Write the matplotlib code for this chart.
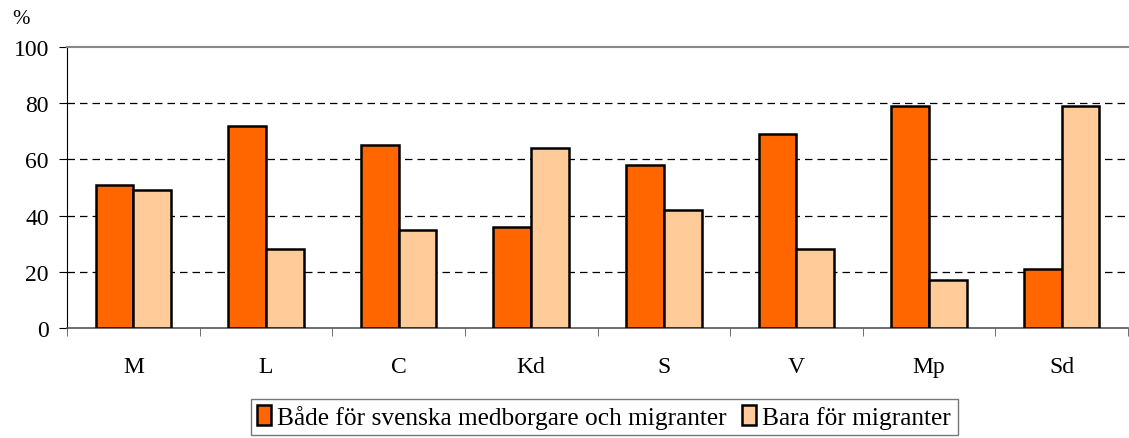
import matplotlib.pyplot as plt
import numpy as np

partier = ['M', 'L', 'C', 'Kd', 'S', 'V', 'Mp', 'Sd']
bade = [51, 72, 65, 36, 58, 69, 79, 21]
bara = [49, 28, 35, 64, 42, 28, 17, 79]

plt.rcParams['font.family'] = ['Liberation Serif', 'DejaVu Serif']

fig = plt.figure(figsize=(11.29, 4.39), dpi=100)
ax = fig.add_axes([67 / 1129, 1 - 329 / 439, 1061 / 1129, 281 / 439])

x = np.arange(len(partier))
w = 0.285
ax.bar(x - w / 2, bade, w, color='#FF6600', edgecolor='black', linewidth=1.8,
       label='Både för svenska medborgare och migranter', zorder=3)
ax.bar(x + w / 2, bara, w, color='#FFCC99', edgecolor='black', linewidth=1.8,
       label='Bara för migranter', zorder=3)

ax.set_xlim(-0.5, len(partier) - 0.5)
ax.set_ylim(0, 100)
ax.set_yticks(range(0, 101, 20))
ax.set_xticks(x)
ax.set_xticklabels(partier)
ax.set_xticks(np.arange(len(partier) + 1) - 0.5, minor=True)
ax.tick_params(axis='x', which='major', length=0, pad=20, labelsize=17)
ax.tick_params(axis='x', which='minor', length=6, direction='out', color='#555555')
ax.tick_params(axis='y', length=6, direction='out', labelsize=17, pad=7)

for yv in [20, 40, 60, 80]:
    ax.axhline(yv, color='black', linestyle=(0, (6, 4)), linewidth=0.9, zorder=1)

ax.spines['top'].set_color('#888888')
ax.spines['top'].set_linewidth(1.5)
ax.spines['right'].set_visible(False)
ax.spines['left'].set_color('black')
ax.spines['bottom'].set_color('#555555')
ax.spines['bottom'].set_linewidth(1.2)

fig.text(12 / 1129, 1 - 19 / 439, '%', fontsize=15, ha='left', va='center')

leg = fig.legend(loc='center', bbox_to_anchor=(604 / 1129, 1 - 418 / 439), ncol=2,
                 frameon=True, fancybox=False, edgecolor='#555555', fontsize=18.3,
                 handlelength=0.55, handleheight=0.8, handletextpad=0.25,
                 columnspacing=0.6, borderpad=0.25, borderaxespad=0)
leg.get_frame().set_linewidth(1.0)
for h in leg.legend_handles:
    h.set_linewidth(1.8)

fig.savefig('out.png', dpi=100)
